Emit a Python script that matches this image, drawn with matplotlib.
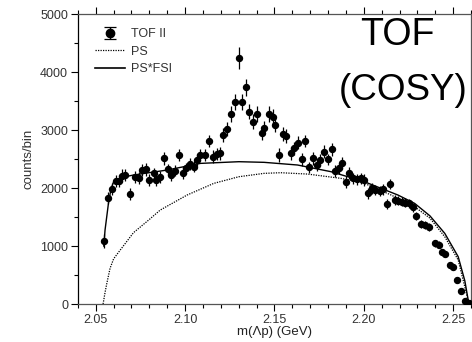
import numpy as np
import matplotlib
matplotlib.use("Agg")
import matplotlib.pyplot as plt
from matplotlib.ticker import MultipleLocator

plt.rcParams.update({
    "font.family": ["Liberation Sans", "DejaVu Sans"],
    "font.size": 9,
    "axes.linewidth": 0.9,
    "xtick.direction": "out",
    "ytick.direction": "out",
})

# TOF II data points: invariant mass (GeV), counts/bin, error
mass = [2.0548, 2.0571, 2.0593, 2.0612, 2.0631, 2.0648, 2.0665, 2.0693, 2.0717, 2.0743,
        2.0758, 2.0781, 2.0800, 2.0824, 2.0839, 2.0861, 2.0882, 2.0904, 2.0923, 2.0942,
        2.0964, 2.0989, 2.1007, 2.1026, 2.1048, 2.1067, 2.1086, 2.1110, 2.1133, 2.1155,
        2.1180, 2.1198, 2.1213, 2.1236, 2.1254, 2.1279, 2.1301, 2.1320, 2.1339, 2.1357,
        2.1382, 2.1400, 2.1429, 2.1442, 2.1470, 2.1489, 2.1503, 2.1526, 2.1548, 2.1567,
        2.1591, 2.1610, 2.1629, 2.1652, 2.1670, 2.1694, 2.1713, 2.1736, 2.1754, 2.1779,
        2.1798, 2.1820, 2.1841, 2.1860, 2.1878, 2.1900, 2.1919, 2.1942, 2.1961, 2.1985,
        2.2003, 2.2026, 2.2045, 2.2065, 2.2088, 2.2110, 2.2129, 2.2149, 2.2172, 2.2191,
        2.2213, 2.2232, 2.2253, 2.2275, 2.2294, 2.2318, 2.2341, 2.2365, 2.2400, 2.2418,
        2.2437, 2.2452, 2.2483, 2.2500, 2.2524, 2.2543, 2.2565, 2.2588]
counts = [1091, 1833, 1983, 2121, 2121, 2210, 2224, 1897, 2195, 2178,
          2310, 2322, 2138, 2253, 2138, 2195, 2512, 2322, 2224, 2299,
          2569, 2264, 2339, 2414, 2368, 2483, 2569, 2569, 2810, 2540,
          2586, 2598, 2914, 3012, 3276, 3488, 4240, 3488, 3736, 3316,
          3143, 3276, 2953, 3029, 3276, 3229, 3086, 2569, 2926, 2897,
          2598, 2684, 2781, 2495, 2810, 2357, 2512, 2397, 2483, 2626,
          2495, 2667, 2293, 2339, 2436, 2109, 2264, 2167, 2150, 2167,
          2138, 1909, 1995, 1966, 1948, 1978, 1724, 2069, 1793, 1781,
          1764, 1747, 1736, 1667, 1517, 1374, 1362, 1333, 1050, 1020,
          890, 860, 670, 640, 414, 229, 57, 12]
errors = [120, 100, 100, 110, 110, 110, 110, 100, 100, 100,
          110, 110, 100, 100, 100, 100, 110, 100, 100, 100,
          110, 100, 100, 100, 100, 100, 110, 110, 110, 110,
          110, 110, 120, 120, 130, 140, 190, 140, 150, 130,
          130, 130, 120, 120, 130, 130, 120, 120, 120, 120,
          110, 110, 110, 110, 110, 100, 110, 100, 100, 110,
          100, 110, 100, 100, 100, 100, 100, 100, 100, 100,
          100, 90, 90, 90, 90, 90, 90, 90, 80, 80,
          80, 80, 80, 80, 70, 70, 70, 70, 60, 60,
          50, 50, 50, 50, 40, 30, 20, 10]

# phase space curve
ps_mass = [2.0541, 2.0552, 2.0562, 2.0580, 2.0600, 2.0637, 2.0711, 2.0796, 2.0861, 2.1011,
           2.1161, 2.1301, 2.1442, 2.1535, 2.1685, 2.1872, 2.2003, 2.2153, 2.2284, 2.2370,
           2.2453, 2.2528, 2.2565, 2.2588]
ps_counts = [0, 200, 357, 615, 780, 931, 1230, 1448, 1621, 1879,
             2081, 2195, 2253, 2264, 2241, 2167, 2081, 1879, 1678, 1480,
             1160, 759, 298, 0]

# phase space * FSI curve
fsi_mass = [2.0545, 2.0552, 2.0571, 2.0585, 2.0599, 2.0640, 2.0711, 2.0899, 2.1086, 2.1301,
            2.1442, 2.1629, 2.1816, 2.2003, 2.2191, 2.2284, 2.2370, 2.2453, 2.2528, 2.2565,
            2.2588]
fsi_counts = [1000, 1276, 1736, 1980, 2100, 2180, 2224, 2310, 2425, 2454,
              2443, 2397, 2282, 2109, 1879, 1736, 1520, 1218, 816, 402,
              0]

fig = plt.figure(figsize=(4.72, 3.42), dpi=100)
ax = fig.add_axes([0.165, 0.111, 0.833, 0.848])

ax.errorbar(mass, counts, yerr=errors, fmt="o", color="black", ms=4.3,
            elinewidth=0.9, capsize=0, zorder=3)
ax.plot(ps_mass, ps_counts, color="black", lw=0.9, linestyle=(0, (1, 1)), zorder=2)
ax.plot(fsi_mass, fsi_counts, color="black", lw=1.0, zorder=2)

# legend handles
h_data = ax.errorbar([np.nan], [np.nan], yerr=[np.nan], fmt="o", color="black",
                     ms=6, elinewidth=0.9, capsize=4, capthick=0.9)
h_ps, = ax.plot([], [], color="black", lw=0.9, linestyle=(0, (1, 1)))
h_fsi, = ax.plot([], [], color="black", lw=1.2)
leg = ax.legend([h_data, h_ps, h_fsi], ["TOF II", "PS", "PS*FSI"],
                loc="upper left", bbox_to_anchor=(0.015, 0.99), frameon=False,
                fontsize=9, handlelength=2.4, labelspacing=0.45, handletextpad=0.5)
for t in leg.get_texts():
    t.set_color("#333333")

ax.set_xlim(2.04, 2.26)
ax.set_ylim(0, 5000)
ax.xaxis.set_major_locator(MultipleLocator(0.05))
ax.xaxis.set_minor_locator(MultipleLocator(0.01))
ax.yaxis.set_major_locator(MultipleLocator(1000))
ax.yaxis.set_minor_locator(MultipleLocator(500))
ax.set_xticks([2.05, 2.10, 2.15, 2.20, 2.25])
ax.set_xticklabels(["2.05", "2.10", "2.15", "2.20", "2.25"])
ax.tick_params(which="both", top=True, right=True, labelcolor="#333333", pad=2,
               labelsize=9)
ax.tick_params(which="major", length=5, width=0.8)
ax.tick_params(which="minor", length=3, width=0.8)
for side in ["top", "bottom", "right"]:
    ax.spines[side].set_color("#555555")

ax.set_ylabel("counts/bin", fontsize=9.5, color="#333333", labelpad=4)
ax.set_xlabel("m(\u039bp) (GeV)", fontsize=9.5, color="#222222", labelpad=0)

fig.text(397 / 472, 1 - 35 / 342, "TOF", fontsize=27, ha="center", va="center")
fig.text(403 / 472, 1 - 91 / 342, "(COSY)", fontsize=26.5, ha="center", va="center")

fig.savefig("out.png", dpi=100)
